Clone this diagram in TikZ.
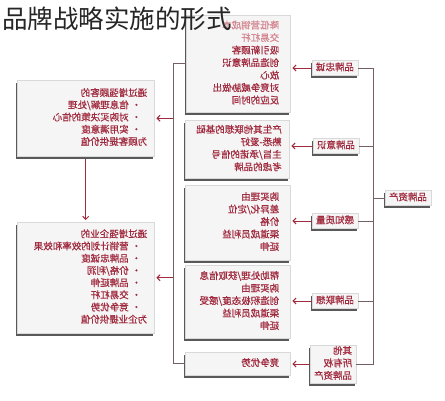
\documentclass[tikz,border=0pt]{standalone}
\usepackage{fontspec}
\setmainfont{Noto Sans CJK SC}
\newfontfamily\heavy[FakeBold=0.7]{Noto Sans CJK SC}
\usepackage{graphicx}
\usetikzlibrary{arrows.meta,shadows}
\definecolor{txtred}{RGB}{160,42,62}
\definecolor{fadered}{RGB}{210,135,145}
\definecolor{linec}{RGB}{115,95,100}
\definecolor{boxfill}{RGB}{246,245,245}
\newcommand\mirtext[1]{\reflectbox{\begin{tabular}{@{}l@{}}#1\end{tabular}}}
\newcommand\bul{\hspace{6pt}•\hspace{3pt}}
\begin{document}
\begin{tikzpicture}[x=1pt,y=-1pt,
  shad/.style={general shadow={fill=black!65, shadow xshift=-1.5pt, shadow yshift=-2.8pt}},
  box/.style={draw=black!15, fill=boxfill, shad, inner ysep=0pt, align=right,
    text=txtred, font=\heavy\fontsize{9.5}{12.5}\selectfont, anchor=north west},
  lab/.style={draw=black!15, fill=boxfill, shad, inner sep=0pt, text=txtred,
    font=\heavy\fontsize{9.5}{12.5}\selectfont, minimum width=46pt, minimum height=15pt},
  conn/.style={draw=linec, line width=0.8pt},
  arr/.style={draw=txtred, line width=1pt, -{Straight Barb[length=3pt,width=6pt]}},
]
\useasboundingbox (0,0) rectangle (445,400);
% right column boxes
\node[box, inner xsep=11pt, text width=82pt, minimum height=97pt] (b1) at (186,15)
  {\mirtext{\textcolor{fadered}{降低营销成本}\\\textcolor{fadered}{交易杠杆}\\吸引新顾客\\创造品牌意识\\放心\\对竞争威胁做出\\反应的时间}};
\node[box, inner xsep=11pt, text width=82pt, minimum height=58pt] (b2) at (185,120)
  {\mirtext{产生其他联想的基础\\熟悉-爱好\\主旨/承诺的信号\\考虑的品牌}};
\node[box, inner xsep=11pt, text width=83pt, minimum height=75pt] (b3) at (185,185)
  {\mirtext{购买理由\\差异化/定位\\价格\\渠道成员利益\\延伸}};
\node[box, inner xsep=11pt, text width=83pt, minimum height=73pt] (b4) at (185,265)
  {\mirtext{帮助处理/获取信息\\购买理由\\创造积极态度/感受\\渠道成员利益\\延伸}};
\node[box, inner xsep=11pt, text width=83pt, minimum height=23pt] (b5) at (185,352)
  {\mirtext{竞争优势}};
% left column boxes
\node[box, inner xsep=7pt, text width=123pt, minimum height=76pt,
  font=\heavy\fontsize{9.5}{12.2}\selectfont] (lt) at (17,80)
  {\mirtext{通过增强顾客的\\\bul 信息理解/处理\\\bul 对购买决策的信心\\\bul 实用满意度\\为顾客提供价值}};
\node[box, inner xsep=7pt, text width=123pt, minimum height=111pt,
  font=\heavy\fontsize{9.5}{12.2}\selectfont] (lb) at (17,222)
  {\mirtext{通过增强企业的\\\bul 营销计划的效率和效果\\\bul 品牌忠诚度\\\bul 价格/利润\\\bul 品牌延伸\\\bul 交易杠杆\\\bul 竞争优势\\为企业提供价值}};
% labels
\node[lab] (l1) at (335,68) {\mirtext{品牌忠诚}};
\node[lab] (l2) at (336,146) {\mirtext{品牌意识}};
\node[lab] (l3) at (335,221) {\mirtext{感知质量}};
\node[lab] (l4) at (335,301) {\mirtext{品牌联想}};
\node[lab, minimum height=38pt] (l5) at (333,364) {\mirtext{其他\\所有权\\品牌资产}};
\node[lab] (root) at (408,198) {\mirtext{品牌资产}};
% right tree
\coordinate (rv) at (373,0);
\draw[conn] (l1.east) -- (l1.east -| rv) -- (l5.east -| rv) -- (l5.east);
\draw[conn] (l2.east) -- (l2.east -| rv);
\draw[conn] (l3.east) -- (l3.east -| rv);
\draw[conn] (l4.east) -- (l4.east -| rv);
\draw[conn] (root.west) -- (root.west -| rv);
% label arrows
\draw[arr, shorten >=2pt] (l1.west) -- (b1.east |- l1.west);
\draw[arr, shorten >=2pt] (l2.west) -- (b2.east |- l2.west);
\draw[arr, shorten >=2pt] (l3.west) -- (b3.east |- l3.west);
\draw[arr, shorten >=2pt] (l4.west) -- (b4.east |- l4.west);
\draw[arr, shorten >=2pt] (l5.west) -- (b5.east |- l5.west);
% left tree
\coordinate (lv) at (173,0);
\draw[conn] (b1.west) -- (b1.west -| lv) -- (b5.west -| lv) -- (b5.west);
\draw[arr, shorten >=2pt] (lt.east -| lv) -- (lt.east);
\draw[arr, shorten >=2pt] (lb.east -| lv) -- (lb.east);
\draw[arr, shorten <=3pt, shorten >=2pt] (lt.south) -- (lb.north);
% title
\node[anchor=north west, inner sep=0pt, text=black!85,
  font=\fontsize{25.5}{26}\selectfont] (title) at (2,7) {品牌战略实施的形式};
\end{tikzpicture}
\end{document}
